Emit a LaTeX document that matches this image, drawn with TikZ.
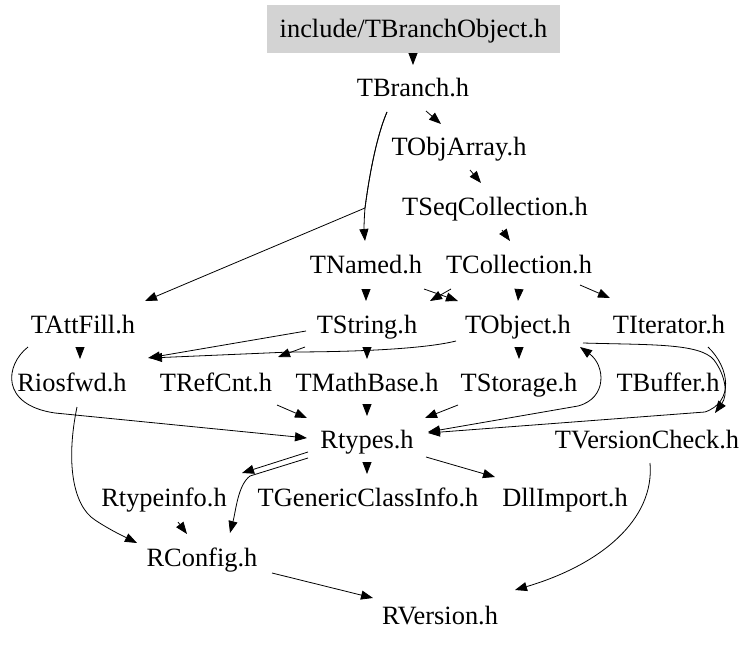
\documentclass[tikz,border=0pt]{standalone}
\usepackage{fontspec}
\setmainfont{Liberation Serif}
\usetikzlibrary{arrows.meta,calc}
\definecolor{boxgray}{RGB}{211,211,211}
\begin{document}
\begin{tikzpicture}[x=1pt,y=-1pt,
  hdr/.style={font=\fontsize{26.4}{30}\selectfont, inner sep=0pt, text height=17pt, text depth=0pt, minimum height=48pt},
  arr/.style={draw=black, line width=0.8pt, -{Triangle[length=12pt,width=9pt]}},
  arrboth/.style={draw=black, line width=0.8pt, {Triangle[length=12pt,width=9pt]}-{Triangle[length=12pt,width=9pt]}},
]
\useasboundingbox (0,0) rectangle (756,645);
\node[hdr, fill=boxgray, minimum width=293pt] (TBO) at (413.5,29) {include/TBranchObject.h};
\node[hdr] (TBranch) at (413,88) {TBranch.h};
\node[hdr] (TObjArray) at (459,147) {TObjArray.h};
\node[hdr] (TSeq) at (495,207) {TSeqCollection.h};
\node[hdr] (TNamed) at (366,265) {TNamed.h};
\node[hdr] (TColl) at (519,265) {TCollection.h};
\node[hdr] (TAttFill) at (83,325) {TAttFill.h};
\node[hdr] (TString) at (367,325) {TString.h};
\node[hdr] (TObject) at (518,325) {TObject.h};
\node[hdr] (TIterator) at (669,325) {TIterator.h};
\node[hdr] (Riosfwd) at (72,383) {Riosfwd.h};
\node[hdr] (TRefCnt) at (216,383) {TRefCnt.h};
\node[hdr] (TMathBase) at (367,383) {TMathBase.h};
\node[hdr] (TStorage) at (519,383) {TStorage.h};
\node[hdr] (TBuffer) at (668,383) {TBuffer.h};
\node[hdr] (Rtypes) at (367,440) {Rtypes.h};
\node[hdr] (TVersionCheck) at (647,440) {TVersionCheck.h};
\node[hdr] (Rtypeinfo) at (164,498) {Rtypeinfo.h};
\node[hdr] (TGCI) at (368,498) {TGenericClassInfo.h};
\node[hdr] (DllImport) at (565,498) {DllImport.h};
\node[hdr] (RConfig) at (202,558) {RConfig.h};
\node[hdr] (RVersion) at (440,616) {RVersion.h};

% edges
\draw[arr] ($(TBO)+(-0.5,24)$) -- ($(TBranch)+(0,-23)$);
\draw[arr] ($(TBranch)+(13,23)$) -- ($(TObjArray)+(-18,-23)$);
\draw[arr] ($(TObjArray)+(11,23)$) -- ($(TSeq)+(-14,-24)$);
\draw[arr] ($(TSeq)+(7,23)$) -- ($(TColl)+(-9,-24)$);
\draw[arr] ($(TBranch)+(-26,24)$) .. controls (375,140) and (368,185) .. (365,208) .. controls (364,220) and (364,230) .. ($(TNamed)+(-1,-24)$);
\draw[arr] ($(TBranch)+(-26,24)$) .. controls (375,140) and (368,185) .. (365,208) -- ($(TAttFill)+(62,-24)$);
\draw[arr] ($(TNamed)+(0,24)$) -- ($(TString)+(-1,-24)$);
\draw[arr] ($(TNamed)+(58,24)$) -- ($(TObject)+(-60,-24)$);
\draw[arr] ($(TColl)+(-68,24)$) -- ($(TString)+(63,-24)$);
\draw[arr] ($(TColl)+(0,24)$) -- ($(TObject)+(0,-24)$);
\draw[arr] ($(TColl)+(61,20)$) -- ($(TIterator)+(-59,-27)$);
\draw[arr] ($(TAttFill)+(-3,24)$) -- ($(Riosfwd)+(8,-24)$);
\draw[arr] ($(TAttFill)+(-55,22)$) .. controls (5,365) and (0,405) .. (55,413) -- ($(Rtypes)+(-60,-2)$);
\draw[arr] ($(TString)+(-61,6)$) -- ($(Riosfwd)+(76,-25)$);
\draw[arr] ($(TObject)+(-62,16)$) .. controls (420,350) and (340,352) .. (290,352) -- ($(Riosfwd)+(78,-25)$);
\draw[arr] ($(TString)+(-62,22)$) -- ($(TRefCnt)+(62,-26)$);
\draw[arr] ($(TString)+(0,24)$) -- ($(TMathBase)+(0,-24)$);
\draw[arr] ($(TObject)+(1,24)$) -- ($(TStorage)+(0,-24)$);
\draw[arr] ($(TObject)+(65,18)$) .. controls (650,345) and (700,343) .. (714,360) .. controls (726,376) and (728,395) .. ($(TVersionCheck)+(68,-27)$);
\draw[arr] ($(TIterator)+(39,22)$) .. controls (730,368) and (734,402) .. (705,412) -- ($(Rtypes)+(61,-7)$);
\draw[arrboth] ($(TObject)+(62,22)$) .. controls (605,365) and (608,398) .. (578,406) -- ($(Rtypes)+(61,-8)$);
\draw[arr] ($(Riosfwd)+(5,24)$) .. controls (66,460) and (72,505) .. (95,520) .. controls (110,530) and (125,537) .. ($(RConfig)+(-65,-15)$);
\draw[arr] ($(TRefCnt)+(61,22)$) -- ($(Rtypes)+(-60,-22)$);
\draw[arr] ($(TMathBase)+(0,24)$) -- ($(Rtypes)+(0,-24)$);
\draw[arr] ($(TStorage)+(-61,22)$) -- ($(Rtypes)+(58,-22)$);
\draw[arr] ($(Rtypes)+(-59,12)$) -- ($(Rtypeinfo)+(78,-25)$);
\draw[arr] ($(Rtypes)+(-59,18)$) -- (250,476) .. controls (238,485) and (236,510) .. ($(RConfig)+(28,-25)$);
\draw[arr] ($(Rtypeinfo)+(14,24)$) -- ($(RConfig)+(-15,-24)$);
\draw[arr] ($(Rtypes)+(0,24)$) -- ($(TGCI)+(-1,-24)$);
\draw[arr] ($(Rtypes)+(59,17)$) -- ($(DllImport)+(-70,-21)$);
\draw[arr] ($(RConfig)+(70,15)$) -- ($(RVersion)+(-67,-18)$);
\draw[arr] ($(TVersionCheck)+(3,23)$) .. controls (655,520) and (600,565) .. ($(RVersion)+(75,-26)$);
\end{tikzpicture}
\end{document}
